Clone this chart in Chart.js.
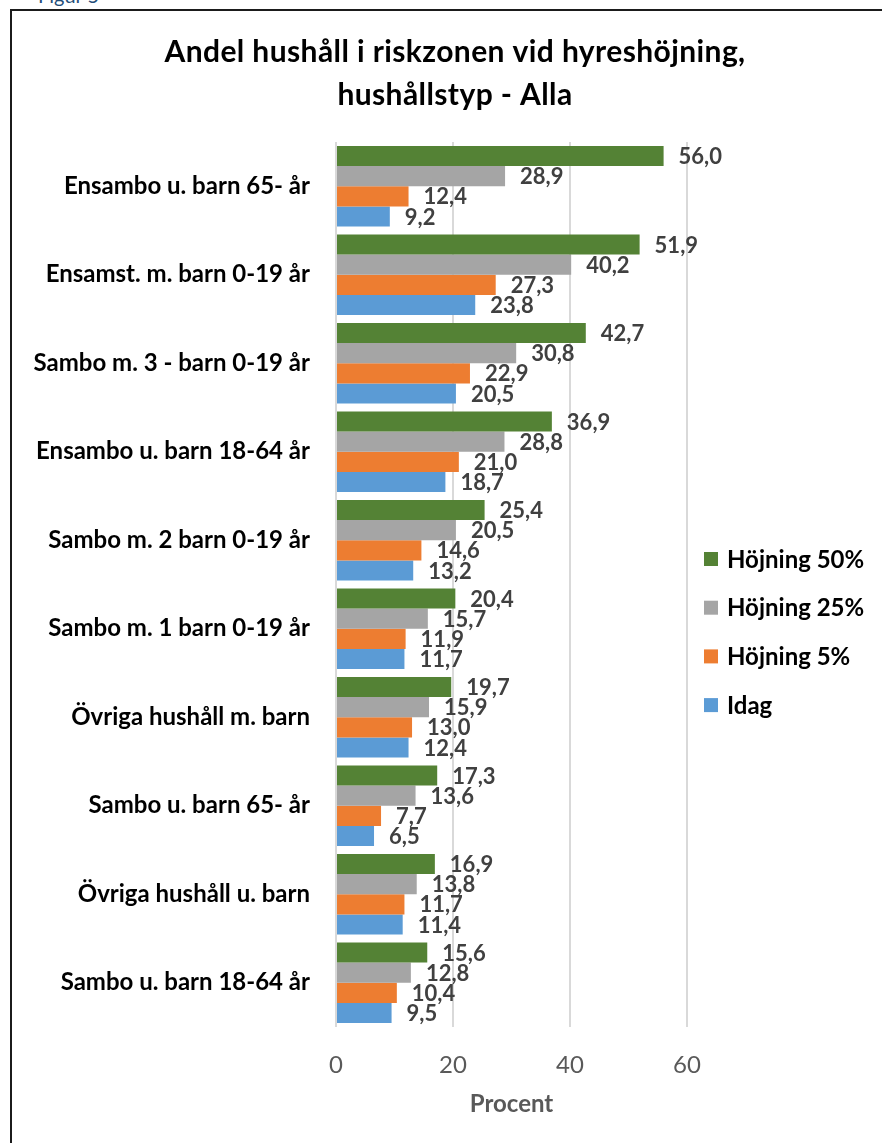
<!DOCTYPE html>
<html><head><meta charset="utf-8">
<script src="https://cdn.jsdelivr.net/npm/chart.js@4.4.1/dist/chart.umd.min.js"></script>
<style>
html,body{margin:0;padding:0;background:#fff;overflow:hidden;width:882px;height:1143px;}
#fig{position:absolute;left:38px;top:-17px;font:20px Lato,sans-serif;color:#1F4E79;white-space:nowrap;}
#box{position:absolute;left:10px;top:9px;width:900px;height:1200px;border:2px solid #1b1b1b;box-sizing:border-box;}
#c{position:absolute;left:12px;top:11px;}
</style></head>
<body>
<div id="fig">Figur 5</div>
<div id="box"></div>
<canvas id="c" width="886" height="1150"></canvas>
<script>
const categories = ["Ensambo u. barn 65- år","Ensamst. m. barn 0-19 år","Sambo m. 3 - barn 0-19 år","Ensambo u. barn 18-64 år","Sambo m. 2 barn 0-19 år","Sambo m. 1 barn 0-19 år","Övriga hushåll m. barn","Sambo u. barn 65- år","Övriga hushåll u. barn","Sambo u. barn 18-64 år"];
const seriesNames = ["Höjning 50%","Höjning 25%","Höjning 5%","Idag"];
const hojning50 = [56.0,51.9,42.7,36.9,25.4,20.4,19.7,17.3,16.9,15.6];
const hojning25 = [28.9,40.2,30.8,28.8,20.5,15.7,15.9,13.6,13.8,12.8];
const hojning5  = [12.4,27.3,22.9,21.0,14.6,11.9,13.0,7.7,11.7,10.4];
const idag      = [9.2,23.8,20.5,18.7,13.2,11.7,12.4,6.5,11.4,9.5];
const xTicks = [0,20,40,60];
const colors = ["#548235","#A5A5A5","#ED7D31","#5B9BD5"];
const titleLines = ["Andel hushåll i riskzonen vid hyreshöjning,","hushållstyp - Alla"];
const axisTitle = "Procent";

const FONT = "Lato, 'Open Sans', sans-serif";
const fmt = v => v.toFixed(1).replace('.', ',');

const chartTitle = {
  id: 'chartTitle',
  afterDraw(chart) {
    const ctx = chart.ctx;
    ctx.save();
    ctx.font = "bold 30px " + FONT;
    if ('letterSpacing' in ctx) ctx.letterSpacing = '0.4px';
    ctx.fillStyle = "#000";
    ctx.textAlign = "center";
    ctx.textBaseline = "middle";
    titleLines.forEach((t, i) => ctx.fillText(t, chart.width / 2, 41 + i * 43));
    ctx.restore();
  }
};

const valueLabels = {
  id: 'valueLabels',
  afterDatasetsDraw(chart) {
    const ctx = chart.ctx;
    ctx.save();
    ctx.font = "bold 22px " + FONT;
    ctx.fillStyle = "#404040";
    ctx.textBaseline = "middle";
    ctx.textAlign = "left";
    chart.data.datasets.forEach((ds, i) => {
      chart.getDatasetMeta(i).data.forEach((bar, j) => {
        ctx.fillText(fmt(ds.data[j]), bar.x + 15, bar.y + 1);
      });
    });
    ctx.restore();
  }
};

const sideLegend = {
  id: 'sideLegend',
  afterDraw(chart) {
    const ctx = chart.ctx;
    const x0 = chart.chartArea.right + 17;
    ctx.save();
    ctx.font = "bold 24px " + FONT;
    ctx.textBaseline = "middle";
    ctx.textAlign = "left";
    chart.data.datasets.forEach((ds, i) => {
      const yc = 548 + i * 48.7;
      ctx.fillStyle = ds.backgroundColor;
      ctx.fillRect(x0, yc - 7, 14, 14);
      ctx.fillStyle = "#000";
      ctx.fillText(ds.label, x0 + 23, yc + 1);
    });
    ctx.restore();
  }
};

const seriesData = [hojning50, hojning25, hojning5, idag];

new Chart(document.getElementById('c'), {
  type: 'bar',
  data: {
    labels: categories,
    datasets: seriesNames.map((n, i) => ({
      label: n,
      data: seriesData[i],
      backgroundColor: colors[i],
      borderWidth: 0,
      categoryPercentage: 0.91,
      barPercentage: 1.0
    }))
  },
  options: {
    indexAxis: 'y',
    responsive: false,
    animation: false,
    layout: { padding: { left: 0, right: 211, top: 131, bottom: 34 } },
    plugins: {
      legend: { display: false },
      tooltip: { enabled: false },
      title: { display: false }
    },
    scales: {
      x: {
        min: 0, max: 60,
        afterBuildTicks: s => { s.ticks = xTicks.map(v => ({ value: v })); },
        afterFit: s => { s.height = 100; },
        grid: { color: "#d9d9d9", lineWidth: 2, drawTicks: false },
        border: { display: false },
        ticks: { color: "#595959", font: { family: FONT, size: 24 }, padding: 24 },
        title: { display: true, text: axisTitle, color: "#595959", font: { family: FONT, size: 24, weight: 'bold' }, padding: { top: 0, bottom: 8 } }
      },
      y: {
        afterFit: s => { s.width = 324; },
        grid: { display: false, drawTicks: false },
        border: { display: false },
        ticks: { color: "#000", font: { family: FONT, size: 24, weight: 'bold' }, padding: 26 }
      }
    }
  },
  plugins: [valueLabels, sideLegend, chartTitle]
});
</script>
</body></html>
